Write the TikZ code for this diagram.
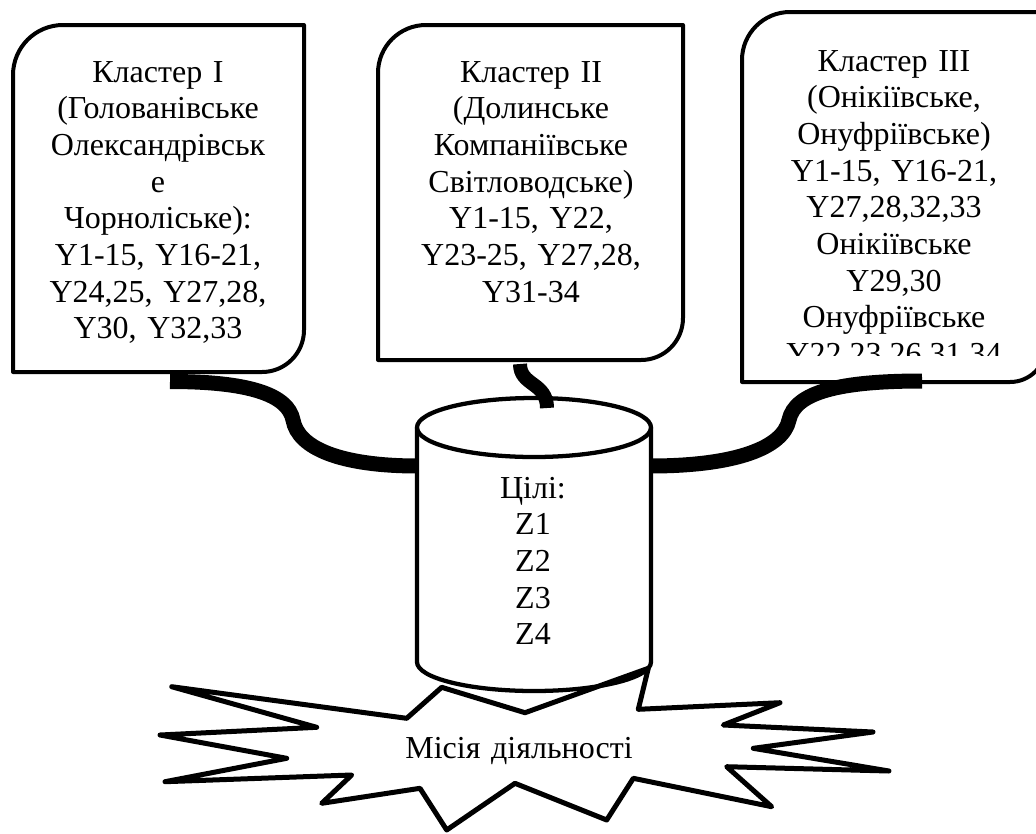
\documentclass[tikz,border=0pt]{standalone}
\usepackage{fontspec}
\setmainfont{Liberation Serif}
\begin{document}
\begin{tikzpicture}[x=0.75pt,y=-0.75pt,
  boxline/.style={line width=3pt, line join=round},
  cylline/.style={line width=3.2pt, line join=round},
  starline/.style={line width=3.75pt, line join=round},
  conn/.style={line width=11.25pt, line cap=butt},
  txt/.style={font=\fontsize{24}{27.5}\selectfont, text width=300pt, align=center, inner sep=0pt, anchor=base}]
\useasboundingbox (0,0) rectangle (1036,833);

% attachment points
\coordinate (b1) at (170,381.5);
\coordinate (b2) at (520,364);
\coordinate (b3) at (922,381);
\coordinate (cylL) at (418,466);
\coordinate (cylR) at (650,466);
\coordinate (cylT) at (547,408);

% boxes
\draw[boxline] (13,372) -- (13,75) .. controls (13,47.4) and (35.4,25) .. (63,25)
  -- (304,25) -- (304,330) .. controls (304,353.2) and (285.2,372) .. (262,372) -- cycle;
\draw[boxline] (378,360) -- (378,73) .. controls (378,46.5) and (399.5,25) .. (426,25)
  -- (683,25) -- (683,318) .. controls (683,341.2) and (664.2,360) .. (641,360) -- cycle;
\draw[boxline] (742,382) -- (742,60) .. controls (742,33.5) and (763.5,12) .. (790,12)
  -- (1046,12) -- (1046,346) .. controls (1046,365.9) and (1029.9,382) .. (1010,382) -- cycle;

% texts
\node[txt] (t1) at (158,82) {Кластер I\\(Голованівське\\Олександрівськ\\е\\Чорноліське):\\Y1-15, Y16-21,\\Y24,25, Y27,28,\\Y30, Y32,33};
\node[txt] (t2) at (531,82) {Кластер II\\(Долинське\\Компаніївське\\Світловодське)\\Y1-15, Y22,\\Y23-25, Y27,28,\\Y31-34};
\begin{scope}
\clip (742,0) rectangle (1036,355);
\node[txt] (t3) at (894,71) {Кластер III\\(Онікіївське,\\Онуфріївське)\\Y1-15, Y16-21,\\Y27,28,32,33\\Онікіївське\\Y29,30\\Онуфріївське\\Y22,23,26,31,34};
\end{scope}

% cylinder
\draw[cylline] (417,427.5) .. controls (417,411.2) and (469.4,398) .. (534,398)
  .. controls (598.6,398) and (651,411.2) .. (651,427.5)
  .. controls (651,443.8) and (598.6,457) .. (534,457)
  .. controls (469.4,457) and (417,443.8) .. (417,427.5) -- cycle;
\draw[cylline] (417,427.5) -- (417,662) .. controls (417,678) and (469.4,691) .. (534,691)
  .. controls (598.6,691) and (651,678) .. (651,662) -- (651,427.5);
\node[txt] (goals) at (533,498) {Цілі:\\Z1\\Z2\\Z3\\Z4};

% connectors
\draw[conn] (b1) .. controls (250,381.5) and (288,395) .. (293,420)
  .. controls (298,448) and (340,466) .. (cylL);
\draw[conn] (b3) .. controls (840,381) and (795,392) .. (789,420)
  .. controls (783,448) and (735,466) .. (cylR);
\draw[conn, line width=10.5pt] (b2) .. controls (520,386) and (547,382) .. (cylT);

% star
\draw[starline] (171.7,686.7) -- (406.7,718.3) -- (441.7,687.3) -- (525,712.7)
  -- (648.3,668.3) -- (638.3,709.3) -- (780,702.7) -- (723.3,725) -- (873,732)
  -- (753.3,748.3) -- (889,771) -- (726.7,766.7) -- (771.7,806.7) -- (633.3,778.3)
  -- (606.7,820) -- (515,783.3) -- (446.7,830) -- (420,788.3) -- (321.7,803.3)
  -- (351.7,775) -- (165,781.7) -- (286.7,758.3) -- (160,735) -- (316.7,727.3) -- cycle;
\node[txt] (mission) at (519,758) {Місія діяльності};
\end{tikzpicture}
\end{document}
